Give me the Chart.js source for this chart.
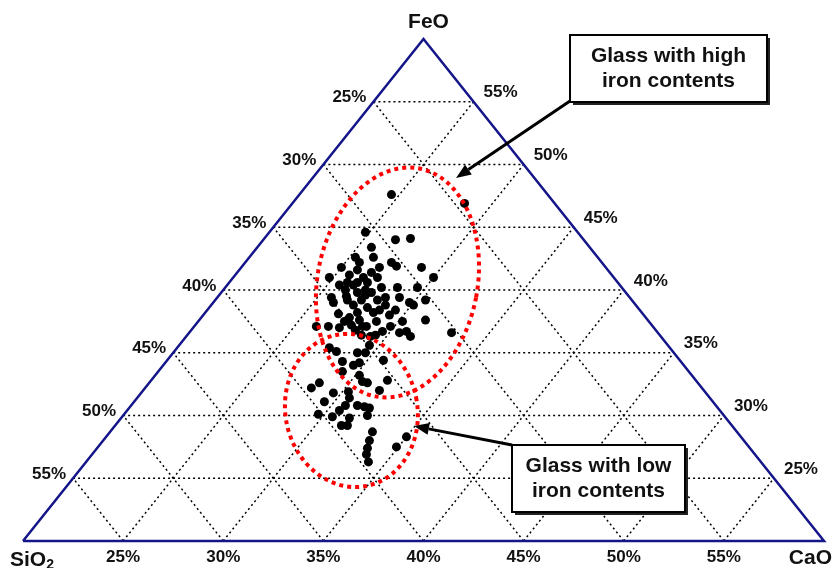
<!DOCTYPE html>
<html>
<head>
<meta charset="utf-8">
<script src="https://cdn.jsdelivr.net/npm/chart.js@4.4.1/dist/chart.umd.min.js"></script>
<style>
  html, body { margin: 0; padding: 0; background: #fff; }
  #wrap { width: 835px; height: 568px; }
</style>
</head>
<body>
<div id="wrap"><canvas id="chart" width="835" height="568"></canvas></div>
<script>
// reduced ternary: each oxide runs from 20% to 60% inside the triangle
const axisMin = 20;
const axisSpan = 40;
const tickValues = [25, 30, 35, 40, 45, 50, 55];

// glass analyses, wt% (SiO2 = 100 - FeO - CaO)
const feo = [
  47.6, 46.9, 44.6, 44.0, 44.1, 43.4, 42.6, 42.6, 42.2, 41.9,
  41.8, 41.8, 41.6, 41.4, 41.8, 41.2, 41.0, 41.0, 41.0, 41.0,
  40.4, 40.6, 40.2, 40.2, 40.2, 39.8, 39.8, 39.4, 39.4, 39.2,
  39.2, 39.2, 39.0, 38.8, 38.6, 38.1, 38.2, 38.2, 38.0, 37.5,
  37.6, 37.5, 37.5, 37.6, 37.1, 37.2, 37.1, 37.1, 36.7, 36.7,
  36.4, 36.4, 36.6, 36.6, 38.4, 38.8, 39.0, 37.1, 37.0, 36.3,
  36.3, 40.0, 40.0, 39.2, 38.8, 36.8, 35.6, 40.6, 42.2,
  39.5, 40.6, 39.6, 38.4, 37.8, 37.1, 39.4, 40.4,
  35.4, 35.1, 35.0, 35.0, 34.4, 34.3, 34.2, 34.0, 33.5, 33.2,
  32.7, 32.6, 32.8, 32.0, 32.6, 32.2, 31.8, 31.1, 31.9, 31.4,
  30.8, 30.8, 30.7, 30.6, 30.0, 30.1, 29.9, 29.8, 29.2, 29.2,
  28.7, 28.0, 27.4, 26.9, 26.3, 28.3, 27.5, 30.4
];
const cao = [
  24.6, 28.6, 24.8, 26.6, 27.3, 25.7, 25.3, 26.2, 27.3, 27.7,
  29.0, 25.0, 25.9, 26.7, 26.9, 25.7, 26.5, 27.2, 30.0, 24.8,
  26.3, 26.9, 27.8, 28.6, 29.6, 26.8, 27.5, 25.7, 29.1, 30.5,
  27.3, 28.1, 29.8, 27.1, 27.9, 26.7, 27.6, 28.4, 29.3, 27.3,
  28.0, 28.9, 30.2, 31.3, 26.1, 27.8, 28.6, 29.8, 30.8, 29.6,
  28.7, 29.4, 30.5, 33.1, 29.4, 30.1, 26.0, 26.7, 27.3, 29.2,
  31.2, 26.1, 27.1, 26.6, 28.7, 28.2, 29.5, 25.9, 25.7,
  26.4, 26.4, 27.3, 28.6, 27.4, 28.4, 28.4, 25.6,
  27.6, 28.1, 29.2, 29.6, 30.8, 28.8, 29.7, 29.5, 29.2, 30.2,
  30.6, 30.9, 31.8, 31.8, 28.5, 28.3, 29.6, 29.5, 30.3, 30.6,
  30.7, 31.3, 31.7, 32.0, 32.2, 29.7, 30.5, 31.4, 31.6, 31.3,
  33.1, 33.3, 33.5, 33.7, 34.1, 35.0, 34.9, 30.6
];

// ternary (FeO, CaO) -> chart x/y, SiO2 corner at (0,0), CaO at (1,0), FeO at (0.5,1)
function tern(f, c) {
  const fy = (f - axisMin) / axisSpan;
  const cx = (c - axisMin) / axisSpan;
  return { x: cx + fy / 2, y: fy };
}

const axisMax = axisMin + axisSpan;   // 60
const edgeSum = 100 - axisMin;        // 80, FeO + CaO on the SiO2 = 20 edge

const gridSets = [];
tickValues.forEach(v => {
  const lines = [
    [tern(v, axisMin), tern(v, edgeSum - v)],                 // FeO = v
    [tern(axisMin, v), tern(edgeSum - v, v)],                 // CaO = v
    [tern(axisMin, edgeSum - v), tern(edgeSum - v, axisMin)]  // SiO2 = v
  ];
  lines.forEach(pts => gridSets.push({
    type: 'line', data: pts, showLine: true, pointRadius: 0,
    borderColor: '#000', borderWidth: 1.5, borderDash: [2, 3],
    fill: false, clip: false, order: 3
  }));
});

const frame = {
  type: 'line',
  data: [tern(axisMin, axisMin), tern(axisMin, axisMax), tern(axisMax, axisMin), tern(axisMin, axisMin)],
  showLine: true, pointRadius: 0, borderColor: '#15158a', borderWidth: 2.5,
  fill: false, clip: false, order: 2
};

const samples = {
  type: 'scatter',
  data: feo.map((f, i) => tern(f, cao[i])),
  pointRadius: 4.5, pointBackgroundColor: '#000', pointBorderWidth: 0,
  clip: false, order: 1
};

// red dotted fields, centre in wt%, radii in px
const fields = [
  { feo: 40.6, cao: 28.4, rx: 80, ry: 116, rot: 0.19 },
  { feo: 30.4, cao: 31.2, rx: 66, ry: 77, rot: -0.2 }
];

const notes = [
  { lines: ['Glass with high', 'iron contents'], box: [570, 35, 197, 67], from: [570, 101], to: [456, 178] },
  { lines: ['Glass with low', 'iron contents'], box: [512, 445, 173, 67], from: [512, 445], to: [414, 426] }
];

const font = '"Liberation Sans", Arial, sans-serif';

function arrow(ctx, a, b) {
  const ang = Math.atan2(b[1] - a[1], b[0] - a[0]);
  const len = 15, half = 6;
  const bx = b[0] - len * Math.cos(ang), by = b[1] - len * Math.sin(ang);
  ctx.strokeStyle = '#000';
  ctx.lineWidth = 3;
  ctx.beginPath();
  ctx.moveTo(a[0], a[1]);
  ctx.lineTo(bx, by);
  ctx.stroke();
  ctx.fillStyle = '#000';
  ctx.beginPath();
  ctx.moveTo(b[0], b[1]);
  ctx.lineTo(bx + half * Math.sin(ang), by - half * Math.cos(ang));
  ctx.lineTo(bx - half * Math.sin(ang), by + half * Math.cos(ang));
  ctx.closePath();
  ctx.fill();
}

const ternaryLabels = {
  id: 'ternaryLabels',
  afterDraw(chart) {
    const ctx = chart.ctx;
    const xs = chart.scales.x, ys = chart.scales.y;
    const px = p => [xs.getPixelForValue(p.x), ys.getPixelForValue(p.y)];

    ctx.save();

    // fields
    ctx.strokeStyle = '#ff0000';
    ctx.lineWidth = 4;
    ctx.setLineDash([4, 4]);
    fields.forEach(e => {
      const [cx, cy] = px(tern(e.feo, e.cao));
      ctx.beginPath();
      ctx.ellipse(cx, cy, e.rx, e.ry, e.rot, 0, Math.PI * 2);
      ctx.stroke();
    });
    ctx.setLineDash([]);

    // tick labels
    ctx.fillStyle = '#111';
    ctx.font = 'bold 17px ' + font;
    ctx.textBaseline = 'middle';
    tickValues.forEach(v => {
      let [x, y] = px(tern(axisMin, v));               // CaO along the base
      ctx.textAlign = 'center';
      ctx.fillText(v + '%', x, y + 16);

      [x, y] = px(tern(edgeSum - v, axisMin));          // SiO2 along the left edge
      ctx.textAlign = 'right';
      ctx.fillText(v + '%', x - 7, y - 4);

      [x, y] = px(tern(v, edgeSum - v));                // FeO along the right edge
      ctx.textAlign = 'left';
      ctx.fillText(v + '%', x + 10, y - 9);
    });

    // corner names
    ctx.font = 'bold 21px ' + font;
    let [x, y] = px(tern(axisMax, axisMin));
    ctx.textAlign = 'center';
    ctx.fillText('FeO', x + 5, y - 17);
    [x, y] = px(tern(axisMin, axisMax));
    ctx.textAlign = 'right';
    ctx.fillText('CaO', x + 8, y + 17);
    [x, y] = px(tern(axisMin, axisMin));
    ctx.textAlign = 'left';
    ctx.fillText('SiO', x - 13, y + 19);
    const w = ctx.measureText('SiO').width;
    ctx.font = 'bold 14px ' + font;
    ctx.fillText('2', x - 13 + w, y + 24);

    // callouts
    notes.forEach(n => {
      arrow(ctx, n.from, n.to);
      const [bx, by, bw, bh] = n.box;
      ctx.fillStyle = '#222';
      ctx.fillRect(bx + 3, by + 3, bw, bh);
      ctx.fillStyle = '#fff';
      ctx.fillRect(bx, by, bw, bh);
      ctx.strokeStyle = '#000';
      ctx.lineWidth = 2;
      ctx.strokeRect(bx, by, bw, bh);
      ctx.fillStyle = '#111';
      ctx.font = 'bold 21px ' + font;
      ctx.textAlign = 'center';
      ctx.fillText(n.lines[0], bx + bw / 2, by + bh / 2 - 12);
      ctx.fillText(n.lines[1], bx + bw / 2, by + bh / 2 + 13);
    });

    ctx.restore();
  }
};

new Chart(document.getElementById('chart'), {
  type: 'scatter',
  data: { datasets: [samples, frame, ...gridSets] },
  options: {
    responsive: false,
    animation: false,
    layout: { padding: { left: 23, right: 11, top: 39, bottom: 27 } },
    scales: {
      x: { type: 'linear', min: 0, max: 1, display: false },
      y: { type: 'linear', min: 0, max: 1, display: false }
    },
    plugins: { legend: { display: false }, tooltip: { enabled: false } }
  },
  plugins: [ternaryLabels]
});
</script>
</body>
</html>
